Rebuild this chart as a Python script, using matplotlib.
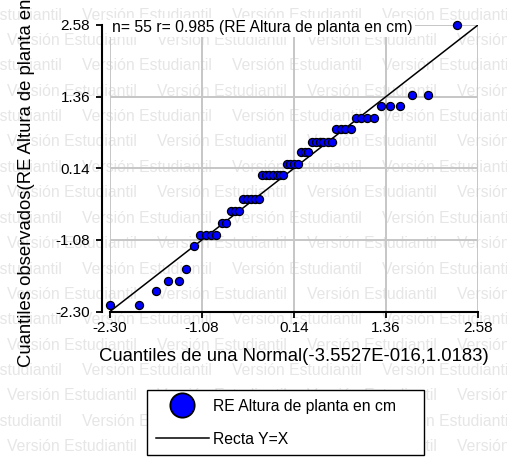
import matplotlib
matplotlib.use("Agg")
import matplotlib.pyplot as plt
from matplotlib.lines import Line2D

plt.rcParams['font.family'] = ['Liberation Sans', 'DejaVu Sans']

# Cuantiles teoricos (Normal) y observados de los residuos
theo_q = [-2.30, -1.91, -1.69, -1.53, -1.39, -1.29, -1.19,
          -1.11, -1.03, -0.96, -0.89,
          -0.82, -0.76,
          -0.70, -0.64, -0.59,
          -0.53, -0.48, -0.43, -0.38, -0.33,
          -0.28, -0.23, -0.19, -0.14, -0.09, -0.05, 0.00,
          0.05, 0.09, 0.14, 0.19,
          0.23, 0.28, 0.33,
          0.38, 0.43, 0.48, 0.53, 0.59, 0.64,
          0.70, 0.76, 0.82, 0.89,
          0.96, 1.03, 1.11, 1.20,
          1.29, 1.41, 1.54,
          1.70, 1.92,
          2.30]
obs_q = [-2.19, -2.19, -1.95, -1.78, -1.78, -1.58, -1.18,
         -0.99, -0.99, -0.99, -0.99,
         -0.79, -0.79,
         -0.58, -0.58, -0.58,
         -0.38, -0.38, -0.38, -0.38, -0.38,
         0.02, 0.02, 0.02, 0.02, 0.02, 0.02, 0.02,
         0.21, 0.21, 0.21, 0.21,
         0.42, 0.42, 0.42,
         0.59, 0.59, 0.59, 0.59, 0.59, 0.59,
         0.81, 0.81, 0.81, 0.81,
         0.99, 0.99, 0.99, 0.99,
         1.20, 1.20, 1.20,
         1.38, 1.38,
         2.58]
r_value = 0.985
tick_vals = [-2.30, -1.08, 0.14, 1.36, 2.58]
tick_labels = ["-2.30", "-1.08", "0.14", "1.36", "2.58"]
var_name = "RE Altura de planta en cm"

W, H = 507, 459
fig = plt.figure(figsize=(W / 100, H / 100), dpi=100)
fig.patch.set_facecolor("white")

# marca de agua de la version de estudiante
for k in range(18):
    y = 15 + 25.4 * k
    x0 = -68 if k % 2 == 0 else 7
    for j in range(5):
        fig.text((x0 + 150 * j) / W, 1 - y / H, "Versión Estudiantil",
                 fontsize=11.3, color="#e6e6e6", ha="left", va="center", zorder=-5)

ax = fig.add_axes([110 / W, 1 - 311.5 / H, 368 / W, 286.5 / H])
ax.patch.set_visible(False)

lim = [tick_vals[0], tick_vals[-1]]
ax.set_xlim(lim)
ax.set_ylim(lim)
ax.set_xticks(tick_vals)
ax.set_xticklabels(tick_labels)
ax.set_yticks(tick_vals)
ax.set_yticklabels(tick_labels)
ax.grid(True, color="#c6c6c6", lw=1.4)
ax.set_axisbelow(True)

for side in ["top", "right"]:
    ax.spines[side].set_visible(False)
ax.spines["left"].set_position(("outward", 5.8))
ax.spines["left"].set_linewidth(1.5)
ax.spines["bottom"].set_linewidth(1.5)
ax.tick_params(direction="out", length=4.5, width=1.3, labelsize=11, colors="black")
ax.tick_params(axis="y", pad=4)
ax.tick_params(axis="x", pad=2.5)

# recta Y=X y puntos observados
ax.plot(lim, lim, color="black", lw=1.1, zorder=2)
ax.plot(theo_q, obs_q, ls="none", marker="o", ms=5.8, mfc="#0000ff",
        mec="black", mew=0.9, clip_on=False, zorder=3)

ax.annotate(f"n= {len(obs_q)} r= {r_value} ({var_name})", xy=(lim[0], lim[1]),
            xytext=(1.5, -1.5), textcoords="offset points", ha="left", va="center",
            fontsize=11.3, zorder=4,
            bbox=dict(facecolor="white", edgecolor="none", pad=1.5))

ax.set_xlabel("Cuantiles de una Normal(-3.5527E-016,1.0183)", fontsize=13.3, labelpad=9.5)
fig.text(27 / W, 1 - 165 / H, f"Cuantiles observados({var_name})", rotation=90,
         ha="center", va="center", fontsize=13.3)

handles = [Line2D([], [], ls="none", marker="o", ms=17.5, mfc="#0000ff", mec="black", mew=1.3),
           Line2D([], [], color="black", lw=1.1)]
leg = fig.legend(handles, [var_name, "Recta Y=X"], loc="upper left",
                 bbox_to_anchor=(147 / W, 1 - 390 / H, 277 / W, 0.0), mode="expand",
                 frameon=True, fancybox=False, edgecolor="black", framealpha=1,
                 fontsize=11.3, handlelength=3.4, handletextpad=0.25, borderpad=0.55,
                 labelspacing=1.15, borderaxespad=0)
leg.get_frame().set_linewidth(1.0)

fig.savefig("out.png", dpi=100)
